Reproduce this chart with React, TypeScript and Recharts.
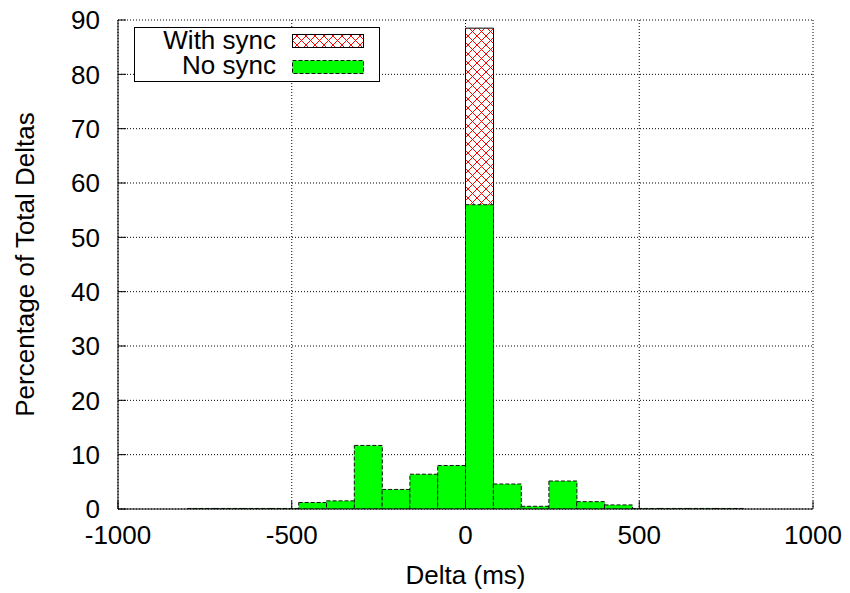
import React from 'react';
import { ComposedChart, Bar, XAxis, YAxis, CartesianGrid, Customized, Label } from 'recharts';

const binCenters = [-760, -680, -600, -520, -440, -360, -280, -200, -120, -40, 40, 120, 200, 280, 360, 440, 520, 600, 680, 760];
const noSync = [0.1, 0.1, 0.1, 0.1, 1.2, 1.5, 11.7, 3.6, 6.4, 8.0, 56, 4.6, 0.5, 5.15, 1.35, 0.75, 0.1, 0.1, 0.1, 0.1];
const withSync = [0, 0, 0, 0, 0, 0, 0, 0, 0, 0, 88.5, 0, 0, 0, 0, 0, 0, 0, 0, 0];
const xTicks = [-1000, -500, 0, 500, 1000];
const yTicks = [0, 10, 20, 30, 40, 50, 60, 70, 80, 90];
const seriesNames = ['With sync', 'No sync'];
const xTitle = 'Delta (ms)';
const yTitle = 'Percentage of Total Deltas';

const data = binCenters.map((c, i) => ({ center: c, withSync: withSync[i], noSync: noSync[i] }));

const FONT = '"Liberation Sans", Arial, Helvetica, sans-serif';
const FS = 26;
const TICK = 8;
const GREEN = '#00ff00';

const BottomTick = (props: any) => {
  const { x, y, payload } = props;
  return (
    <g>
      <line x1={x} y1={y} x2={x} y2={y - TICK} stroke="#000" strokeWidth={1} />
      <text x={x} y={y + 35} textAnchor="middle" fontFamily={FONT} fontSize={FS} fill="#000">
        {payload.value}
      </text>
    </g>
  );
};

const TopTick = (props: any) => {
  const { x, y } = props;
  return <line x1={x} y1={y} x2={x} y2={y + TICK} stroke="#000" strokeWidth={1} />;
};

const LeftTick = (props: any) => {
  const { x, y, payload } = props;
  return (
    <g>
      <line x1={x} y1={y} x2={x + TICK} y2={y} stroke="#000" strokeWidth={1} />
      <text x={x - 18} y={y + 9.3} textAnchor="end" fontFamily={FONT} fontSize={FS} fill="#000">
        {payload.value}
      </text>
    </g>
  );
};

const RightTick = (props: any) => {
  const { x, y } = props;
  return <line x1={x} y1={y} x2={x - TICK} y2={y} stroke="#000" strokeWidth={1} />;
};

const LegendBox = () => (
  <g>
    <rect x={134.5} y={27.5} width={245} height={54} fill="#fff" stroke="#000" strokeWidth={1} />
    <text x={276} y={49} textAnchor="end" fontFamily={FONT} fontSize={FS} fill="#000">{seriesNames[0]}</text>
    <rect x={292.5} y={34.5} width={71} height={13} fill="url(#hatch)" stroke="#000" strokeWidth={1} />
    <text x={276} y={74} textAnchor="end" fontFamily={FONT} fontSize={FS} fill="#000">{seriesNames[1]}</text>
    <rect x={292.5} y={60.5} width={71} height={13} fill={GREEN} stroke="#111" strokeWidth={1} strokeDasharray="4 2" />
  </g>
);

const XTitle = (props: any) => {
  const { viewBox } = props;
  const cx = viewBox.x + viewBox.width / 2;
  return (
    <text x={cx} y={584} textAnchor="middle" fontFamily={FONT} fontSize={FS} fill="#000">{xTitle}</text>
  );
};

const YTitle = (props: any) => {
  const { viewBox } = props;
  const cy = viewBox.y + viewBox.height / 2;
  return (
    <text x={34} y={cy} transform={`rotate(-90 34 ${cy})`} textAnchor="middle" fontFamily={FONT} fontSize={FS} fill="#000">{yTitle}</text>
  );
};

export default function App() {
  return (
    <div style={{ position: 'absolute', left: 0, top: 0, width: 850, height: 593, background: '#fff' }}>
      <ComposedChart
        width={850}
        height={593}
        data={data}
        margin={{ top: 20, right: 37, bottom: 0, left: 0 }}
        barCategoryGap={0}
        barGap={0}
      >
        <defs>
          <pattern id="hatch" patternUnits="userSpaceOnUse" width={9} height={9}>
            <rect x={0} y={0} width={9} height={9} fill="#fff" />
            <path d="M-1,-1 L10,10 M10,-1 L-1,10" stroke="#ff0000" strokeWidth={1} />
          </pattern>
        </defs>
        <CartesianGrid
          xAxisId="bottom"
          yAxisId="left"
          stroke="#000"
          strokeDasharray="1 2"
          strokeWidth={1}
        />
        <XAxis
          xAxisId="bottom"
          dataKey="center"
          type="number"
          domain={[-1000, 1000]}
          ticks={xTicks}
          allowDataOverflow
          orientation="bottom"
          height={84}
          tickSize={0}
          tickMargin={0}
          tickLine={false}
          axisLine={{ stroke: '#000', strokeWidth: 1 }}
          tick={<BottomTick />}
          interval={0}
        >
          <Label content={<XTitle />} />
        </XAxis>
        <XAxis
          xAxisId="top"
          dataKey="center"
          type="number"
          domain={[-1000, 1000]}
          ticks={xTicks}
          allowDataOverflow
          orientation="top"
          height={0}
          tickSize={0}
          tickMargin={0}
          tickLine={false}
          axisLine={{ stroke: '#000', strokeWidth: 1 }}
          tick={<TopTick />}
          interval={0}
        />
        <YAxis
          yAxisId="left"
          orientation="left"
          type="number"
          domain={[0, 90]}
          ticks={yTicks}
          allowDataOverflow
          width={118}
          tickSize={0}
          tickMargin={0}
          tickLine={false}
          axisLine={{ stroke: '#000', strokeWidth: 1 }}
          tick={<LeftTick />}
          interval={0}
        >
          <Label content={<YTitle />} />
        </YAxis>
        <YAxis
          yAxisId="right"
          orientation="right"
          type="number"
          domain={[0, 90]}
          ticks={yTicks}
          allowDataOverflow
          width={0}
          tickSize={0}
          tickMargin={0}
          tickLine={false}
          axisLine={{ stroke: '#000', strokeWidth: 1 }}
          tick={<RightTick />}
          interval={0}
        />
        <Bar
          xAxisId="top"
          yAxisId="right"
          dataKey="withSync"
          name={seriesNames[0]}
          fill="url(#hatch)"
          stroke="#000"
          strokeWidth={1}
          isAnimationActive={false}
        />
        <Bar
          xAxisId="bottom"
          yAxisId="left"
          dataKey="noSync"
          name={seriesNames[1]}
          fill={GREEN}
          stroke="#111"
          strokeWidth={1}
          strokeDasharray="4 2"
          isAnimationActive={false}
        />
        <Customized component={<LegendBox />} />
      </ComposedChart>
    </div>
  );
}
